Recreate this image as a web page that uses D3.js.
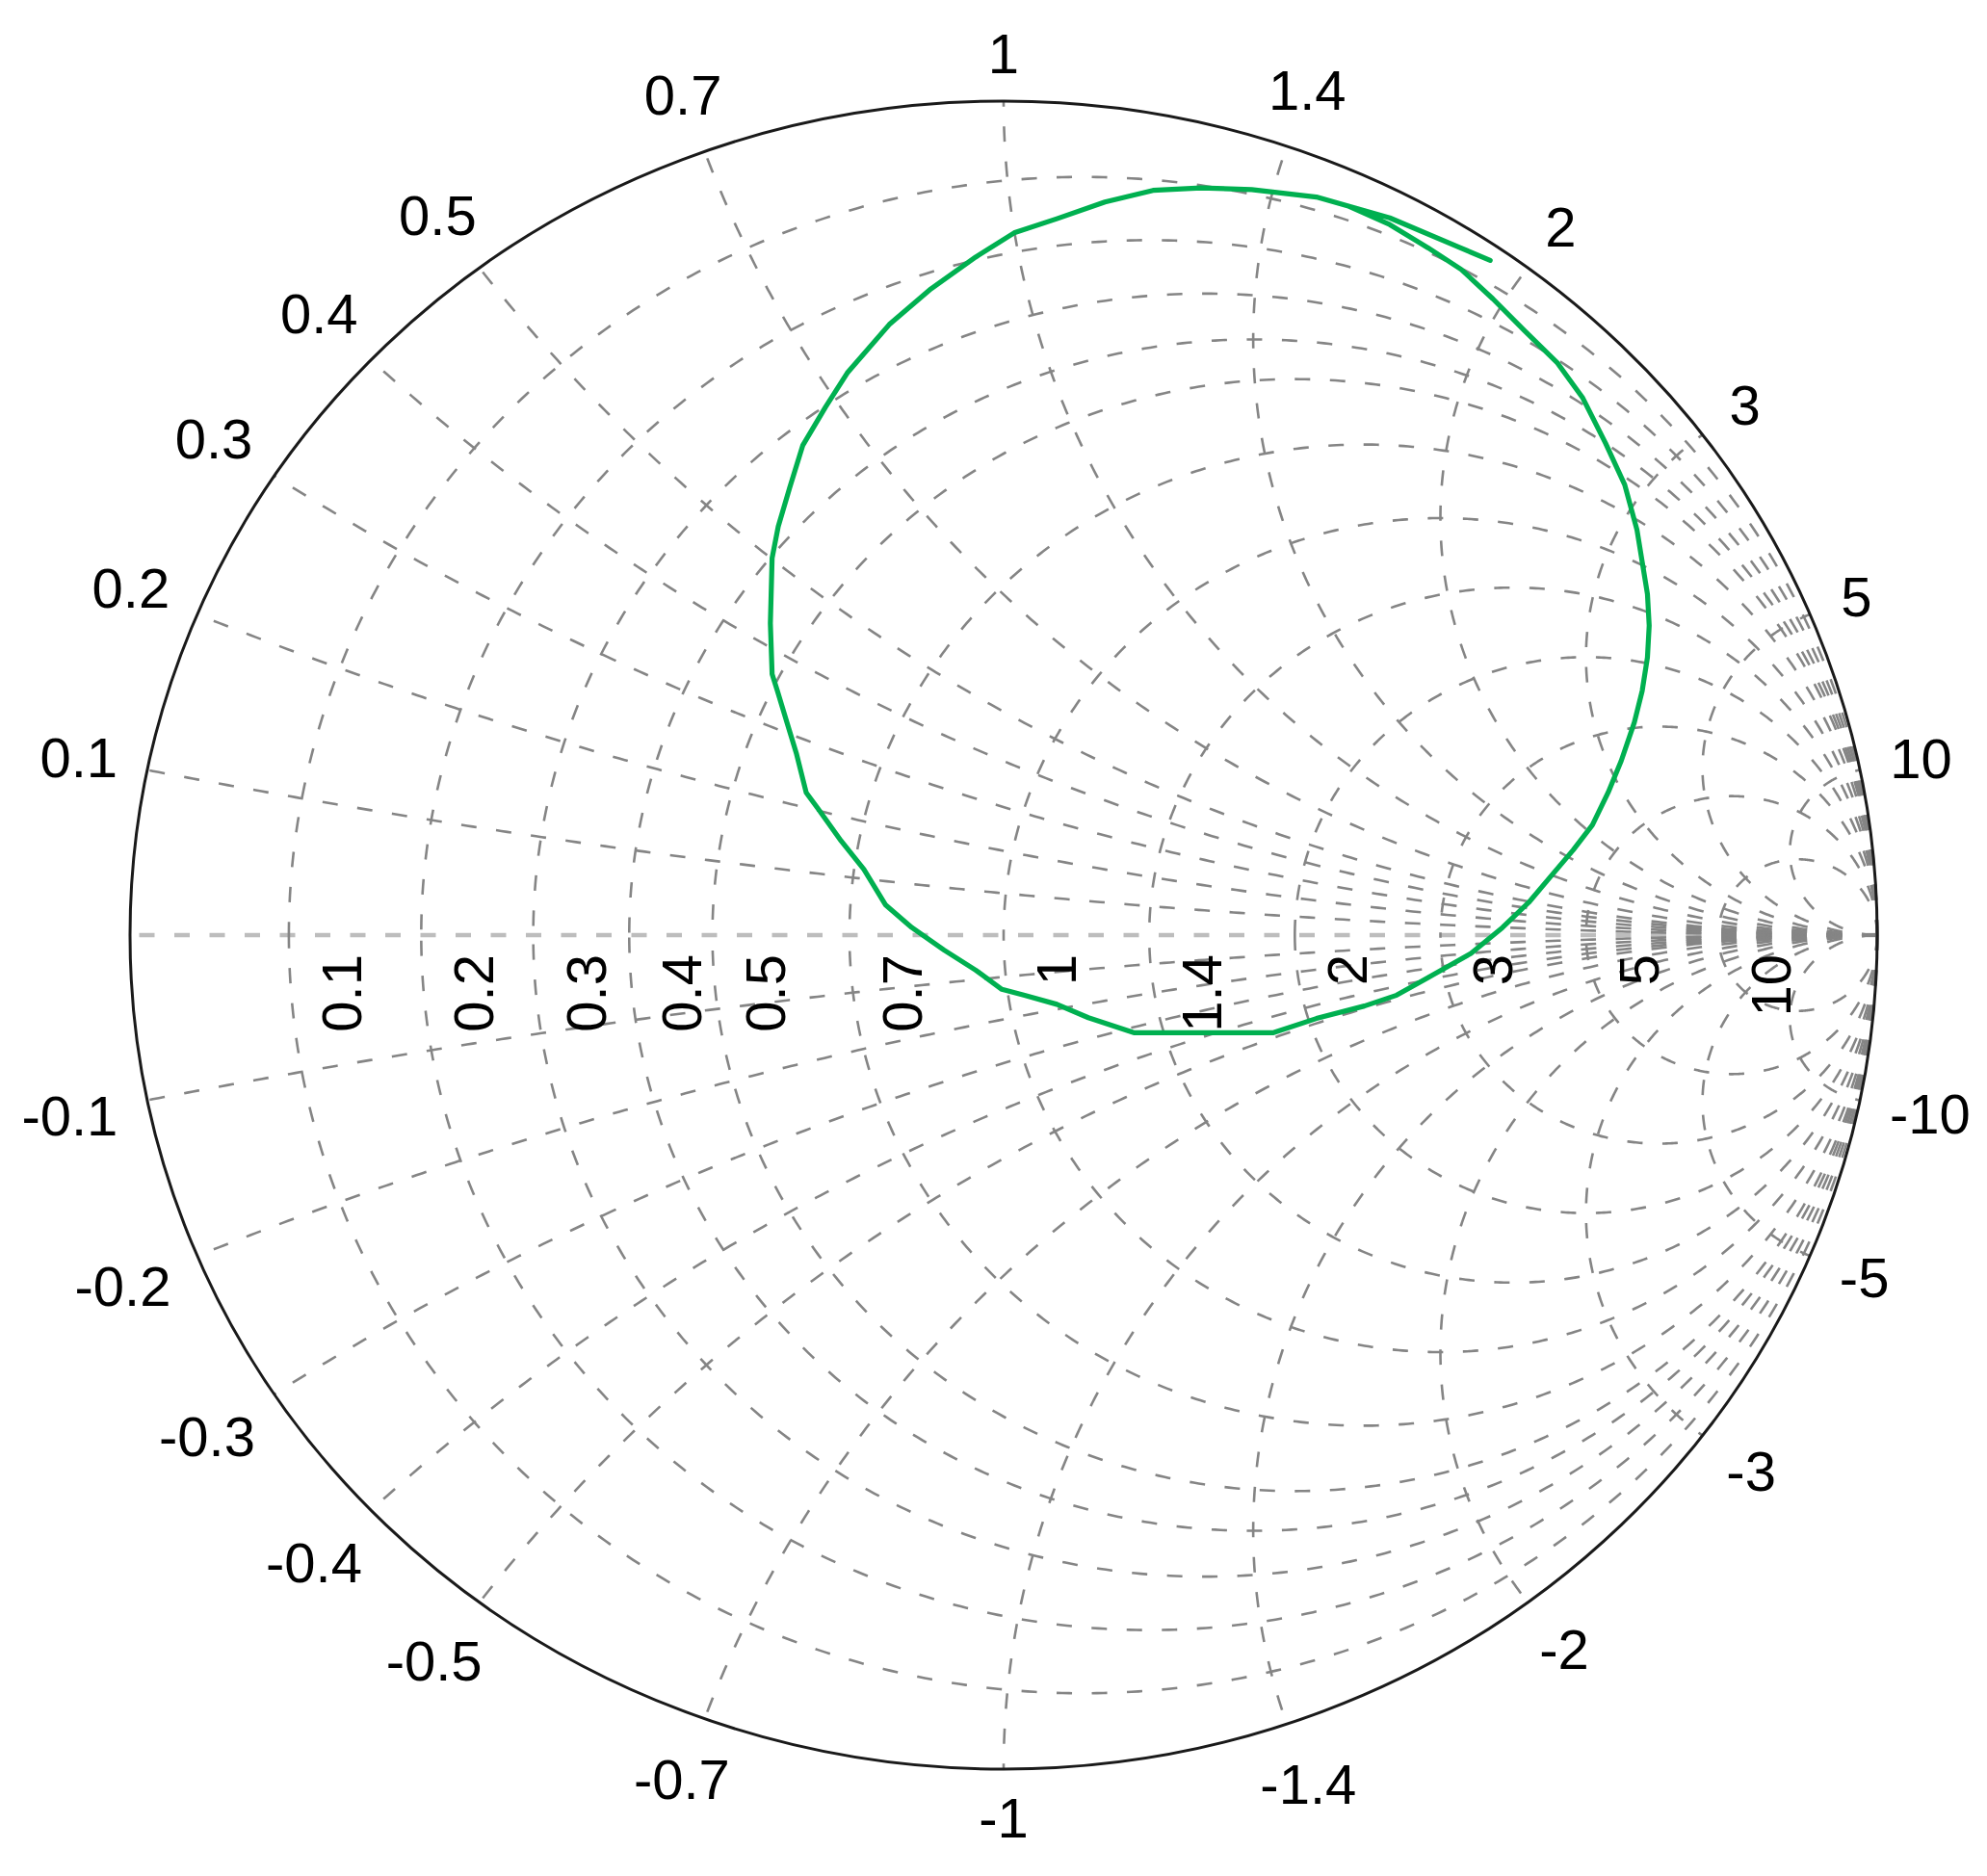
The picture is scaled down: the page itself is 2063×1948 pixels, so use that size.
<!DOCTYPE html>
<html><head><meta charset="utf-8">
<script src="https://cdn.jsdelivr.net/npm/d3@7"></script>
<style>html,body{margin:0;padding:0;background:#fff;} svg{display:block;}</style>
</head><body>
<svg id="chart" width="2063" height="1948"></svg>
<script>
// ---- data ----
const resistanceValues = [0.1, 0.2, 0.3, 0.4, 0.5, 0.7, 1, 1.4, 2, 3, 5, 10];
const resistanceLabels = ["0.1", "0.2", "0.3", "0.4", "0.5", "0.7", "1", "1.4", "2", "3", "5", "10"];
const reactanceValues = [0.1, 0.2, 0.3, 0.4, 0.5, 0.7, 1, 1.4, 2, 3, 5, 10];
const reactanceLabels = ["0.1", "0.2", "0.3", "0.4", "0.5", "0.7", "1", "1.4", "2", "3", "5", "10"];
const negReactanceLabels = ["-0.1", "-0.2", "-0.3", "-0.4", "-0.5", "-0.7", "-1", "-1.4", "-2", "-3", "-5", "-10"];
// reflection coefficient trace (real / imaginary parts)
const traceRe = [0.557,0.442,0.358,0.284,0.226,0.171,0.116,0.061,0.012,-0.032,-0.083,-0.131,-0.179,-0.204,-0.230,-0.245,-0.258,-0.265,-0.267,-0.265,-0.259,-0.248,-0.237,-0.226,-0.212,-0.186,-0.160,-0.135,-0.105,-0.068,-0.032,-0.002,0.023,0.061,0.097,0.149,0.309,0.358,0.413,0.450,0.491,0.535,0.571,0.601,0.626,0.652,0.674,0.692,0.707,0.722,0.731,0.737,0.739,0.737,0.725,0.711,0.689,0.663,0.634,0.596,0.560,0.524,0.486,0.442,0.395];
const traceIm = [0.809,0.860,0.885,0.894,0.896,0.893,0.879,0.859,0.842,0.813,0.775,0.732,0.674,0.633,0.587,0.536,0.490,0.452,0.374,0.313,0.293,0.255,0.217,0.171,0.151,0.113,0.079,0.036,0.009,-0.018,-0.042,-0.065,-0.072,-0.083,-0.099,-0.117,-0.117,-0.100,-0.085,-0.072,-0.048,-0.022,0.009,0.039,0.070,0.102,0.132,0.171,0.209,0.255,0.293,0.333,0.371,0.409,0.486,0.540,0.590,0.644,0.686,0.725,0.763,0.798,0.824,0.852,0.874];

// ---- scales ----
const svg = d3.select("#chart");
svg.append("rect").attr("width", 2063).attr("height", 1948).attr("fill", "#fff");
const x = d3.scaleLinear().domain([-1, 1]).range([135, 1949]);
const y = d3.scaleLinear().domain([-1, 1]).range([1837, 105]);
const line = d3.line().x(d => x(d[0])).y(d => y(d[1]));
const FONT = "'Liberation Sans', Arial, sans-serif";
const FS = 58;

// real axis (drawn from the open-circuit point)
svg.append("path").attr("d", line([[1, 0], [-1, 0]]))
  .attr("fill", "none").attr("stroke", "#bdbdbd").attr("stroke-width", 4.5)
  .attr("stroke-dasharray", "16 20.5");

const grid = svg.append("g").attr("fill", "none")
  .attr("stroke", "#858585").attr("stroke-width", 2.6)
  .attr("stroke-dasharray", "16 20.5");

// resistance circles
resistanceValues.forEach(r => {
  const c = r / (1 + r), rho = 1 / (1 + r), n = 360;
  [1, -1].forEach(s => {
    const pts = d3.range(n + 1).map(i => {
      const t = Math.PI * i / n;
      return [c + rho * Math.cos(t), s * rho * Math.sin(t)];
    });
    grid.append("path").attr("d", line(pts));
  });
});

// reactance arcs
reactanceValues.forEach(xv => {
  const a = xv, cy = 1 / a, rad = 1 / a;
  const ex = (a * a - 1) / (a * a + 1), ey = 2 * a / (a * a + 1);
  let tE = Math.atan2(ey - cy, ex - 1);
  if (tE > -Math.PI / 2) tE -= 2 * Math.PI;
  const n = 300;
  [1, -1].forEach(s => {
    const pts = d3.range(n + 1).map(i => {
      const t = -Math.PI / 2 + (tE + Math.PI / 2) * i / n;
      return [1 + rad * Math.cos(t), s * (cy + rad * Math.sin(t))];
    });
    grid.append("path").attr("d", line(pts));
  });
});

// outer boundary
svg.append("ellipse")
  .attr("cx", x(0)).attr("cy", y(0))
  .attr("rx", x(1) - x(0)).attr("ry", y(0) - y(1))
  .attr("fill", "none").attr("stroke", "#1a1a1a").attr("stroke-width", 3);

// trace
const trace = traceRe.map((re, i) => [re, traceIm[i]]);
svg.append("path").attr("d", line(trace))
  .attr("fill", "none").attr("stroke", "#00b050").attr("stroke-width", 5.2)
  .attr("stroke-linejoin", "round").attr("stroke-linecap", "round");

// resistance labels (rotated, below the real axis)
resistanceValues.forEach((r, i) => {
  const gx = x((r - 1) / (r + 1)) + 54;
  const gy = y(0) + 20;
  svg.append("text")
    .attr("transform", `translate(${gx},${gy}) rotate(-90)`)
    .attr("text-anchor", "end").attr("dy", "0.36em")
    .attr("font-family", FONT).attr("font-size", FS).attr("fill", "#000")
    .text(resistanceLabels[i]);
});

// reactance labels around the boundary
const cx0 = x(0), cy0 = y(0);
function edgeLabel(xv, txt) {
  const a = Math.abs(xv), s = Math.sign(xv);
  const gr = (a * a - 1) / (a * a + 1), gi = s * 2 * a / (a * a + 1);
  const px = x(gr), py = y(gi);
  let dx = px - cx0, dy = py - cy0;
  const L = Math.hypot(dx, dy); dx /= L; dy /= L;
  const t = svg.append("text").attr("text-anchor", "middle").attr("dy", "0.36em")
    .attr("font-family", FONT).attr("font-size", FS).attr("fill", "#000").text(txt);
  const w = t.node().getBBox().width;
  const h = 0.72 * FS;
  const ext = Math.abs(dx) * w / 2 + Math.abs(dy) * h / 2;
  const gap = 29;
  t.attr("x", px + dx * (gap + ext)).attr("y", py + dy * (gap + ext));
}
reactanceValues.forEach((xv, i) => {
  edgeLabel(xv, reactanceLabels[i]);
  edgeLabel(-xv, negReactanceLabels[i]);
});
</script>
</body></html>
